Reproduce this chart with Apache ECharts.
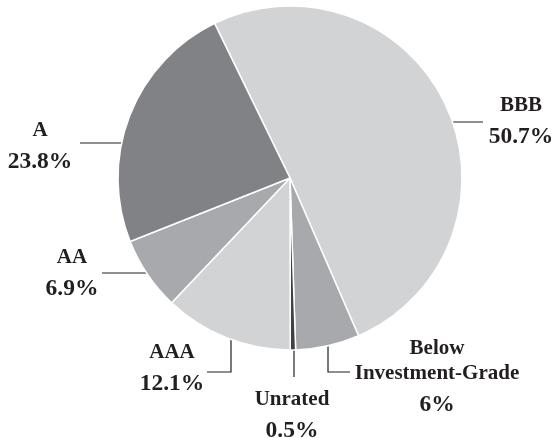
<!DOCTYPE html>
<html>
<head>
<meta charset="utf-8">
<script src="https://cdn.jsdelivr.net/npm/echarts@6/dist/echarts.min.js"></script>
<style>
	html, body { margin: 0; padding: 0; background: #fff; }
	#main { width: 554px; height: 438px; }
</style>
</head>
<body>
<div id="main"></div>
<script>
	// 数据 (clockwise from the A/BBB edge)
	var categories = ['BBB', 'Below\nInvestment-Grade', 'Unrated', 'AAA', 'AA', 'A'];
	var shares = [50.7, 6, 0.5, 12.1, 6.9, 23.8];
	var colors = ['#d1d3d4', '#a7a9ac', '#414042', '#d1d3d4', '#a7a9ac', '#808285'];

	// where each label block sits (top-centre) and its leader line
	var labelSpots = [
		{ x: 521, y: 93, line: [[437, 122], [483, 122]] },
		{ x: 437, y: 336, line: [[328, 321], [328, 372], [350, 372]] },
		{ x: 292, y: 387, line: [[294, 330], [294, 377]] },
		{ x: 172, y: 340, line: [[231, 322], [231, 372], [207, 372]] },
		{ x: 72, y: 245, line: [[160, 273], [102, 273]] },
		{ x: 40, y: 118, line: [[138, 143], [80, 143]] }
	];

	var myChart = echarts.init(document.getElementById('main'));

	var pieData = categories.map(function(name, i) {
		return {
			name: name,
			value: shares[i],
			itemStyle: { color: colors[i] }
		};
	});

	var option = {
		backgroundColor: '#ffffff',
		animation: false,
		series: [{
			type: 'pie',
			center: [290, 178],
			radius: 172,
			startAngle: 116,
			clockwise: true,
			avoidLabelOverlap: false,
			itemStyle: {
				borderColor: '#ffffff',
				borderWidth: 1.5
			},
			label: {
				show: true,
				position: 'outside',
				formatter: function(p) {
					var lines = p.name.split('\n').map(function(s) {
						return '{n|' + s + '}';
					});
					return lines.join('\n') + '\n{v|' + p.value + '%}';
				},
				rich: {
					n: {
						fontFamily: 'Liberation Serif',
						fontWeight: 'bold',
						fontSize: 21,
						color: '#231f20',
						lineHeight: 25,
						align: 'center'
					},
					v: {
						fontFamily: 'Liberation Serif',
						fontWeight: 'bold',
						fontSize: 23.5,
						color: '#231f20',
						lineHeight: 38,
						align: 'center'
					}
				}
			},
			labelLine: {
				show: true,
				smooth: false,
				lineStyle: {
					color: '#231f20',
					width: 1.2
				}
			},
			labelLayout: function(params) {
				var s = labelSpots[params.dataIndex];
				return {
					x: s.x,
					y: s.y,
					align: 'center',
					verticalAlign: 'top',
					labelLinePoints: s.line
				};
			},
			data: pieData
		}]
	};

	myChart.setOption(option);
</script>
</body>
</html>
